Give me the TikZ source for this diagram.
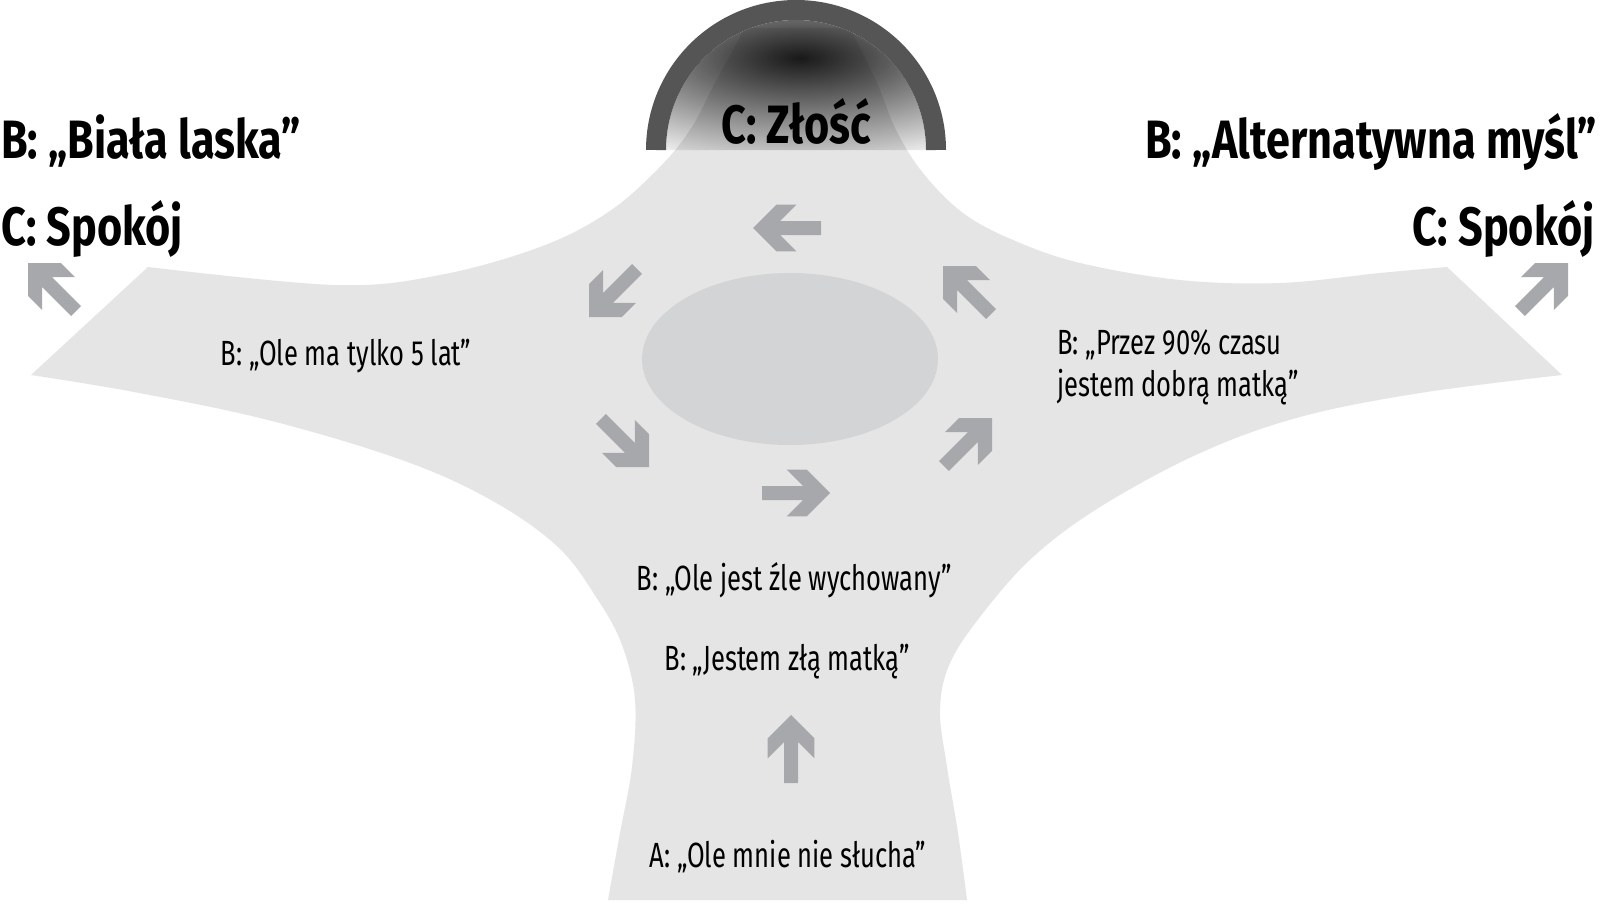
\documentclass[tikz,border=0pt]{standalone}
\usepackage{fontspec}
\setmainfont{Fira Sans}
\newfontfamily\labf{Fira Sans}[FakeStretch=0.73]
\newfontfamily\headf{Fira Sans}[FakeStretch=0.80]
\usetikzlibrary{fadings}
\definecolor{shapegray}{HTML}{E5E5E5}
\definecolor{blobgray}{HTML}{D3D4D6}
\definecolor{arrgray}{HTML}{A7A8AB}
\definecolor{arcgray}{HTML}{555555}
\tikzfading[name=blobfade, inner color=transparent!0, outer color=transparent!100]
\tikzset{
  head/.style={font=\headf\bfseries\fontsize{54}{54}\selectfont, inner sep=0pt, text=black},
  lab/.style={font=\labf\fontsize{35}{42}\selectfont, inner sep=0pt, text=black},
  blockarrow/.pic={\fill[arrgray] (0,0) -- (-23.3,23.3) -- (-43.3,23.3) -- (-27,7) -- (-68,7) -- (-68,-7) -- (-27,-7) -- (-43.3,-23.3) -- (-23.3,-23.3) -- cycle;}
}
\begin{document}
\begin{tikzpicture}[x=1pt,y=-1pt]
\fill[white] (0,0) rectangle (1600,915);
\useasboundingbox (0,0) rectangle (1600,915);
% main shape
\fill[shapegray] (148,267) -- (31,375)
 -- plot[smooth, tension=0.6] coordinates {(31,375) (134,392) (268,420) (402,460) (491,500) (558,547) (598,600) (622,645) (635,700) (632,767) (620,833) (608,900)}
 -- (967,900)
 -- plot[smooth, tension=0.6] coordinates {(967,900) (958,833) (947,767) (940,710) (950,663) (983,613) (1033,557) (1100,507) (1200,453) (1300,417) (1420,393) (1562,375)}
 -- (1447,267)
 -- plot[smooth, tension=0.6] coordinates {(1447,267) (1380,273) (1280,283) (1180,280) (1080,263) (1013,240) (963,213) (923,173) (896,130) (877,83) (850,28)}
 -- (745,28)
 -- plot[smooth, tension=0.6] coordinates {(745,28) (715,83) (690,130) (657,170) (607,213) (540,247) (440,275) (335,285) (148,267)}
 -- cycle;
% dark shading inside the arc
\begin{scope}
\clip (666,150) arc[start angle=180, end angle=360, radius=130] -- cycle;
\fill[black!90, path fading=blobfade] (800,58) ellipse [x radius=300, y radius=112];
\end{scope}
% arc
\draw[arcgray, line width=20pt] (656,150) arc[start angle=180, end angle=360, radius=140];
% central ellipse
\fill[blobgray] (790,359) ellipse [x radius=148, y radius=86];
% arrows
\pic[rotate=180] at (753,228) {blockarrow};
\pic[rotate=225] at (589,317) {blockarrow};
\pic[rotate=-45] at (649,467) {blockarrow};
\pic[rotate=0] at (830,493) {blockarrow};
\pic[rotate=45] at (992,418) {blockarrow};
\pic[rotate=135] at (943,266) {blockarrow};
\pic[rotate=90] at (791,715) {blockarrow};
\pic[rotate=135] at (28,263) {blockarrow};
\pic[rotate=45] at (1568,263) {blockarrow};
% texts
\node[head, anchor=base west] (bl) at (1,158) {B: „Biała laska”};
\node[head, anchor=base west] (cl) at (1,245) {C: Spokój};
\node[head, anchor=base] (cz) at (796,143) {C: Złość};
\node[head, anchor=base east] (br) at (1597,158) {B: „Alternatywna myśl”};
\node[head, anchor=base east] (cr) at (1595,245) {C: Spokój};
\node[lab, anchor=base] (ole5) at (346,365) {B: „Ole ma tylko 5 lat”};
\node[lab, anchor=base west, align=left] (przez) at (1057,396) {B: „Przez 90\% czasu\\jestem dobrą matką”};
\node[lab, anchor=base] (wych) at (794,590) {B: „Ole jest źle wychowany”};
\node[lab, anchor=base] (zla) at (787,670) {B: „Jestem złą matką”};
\node[lab, anchor=base] (slucha) at (788,867) {A: „Ole mnie nie słucha”};
\end{tikzpicture}
\end{document}
